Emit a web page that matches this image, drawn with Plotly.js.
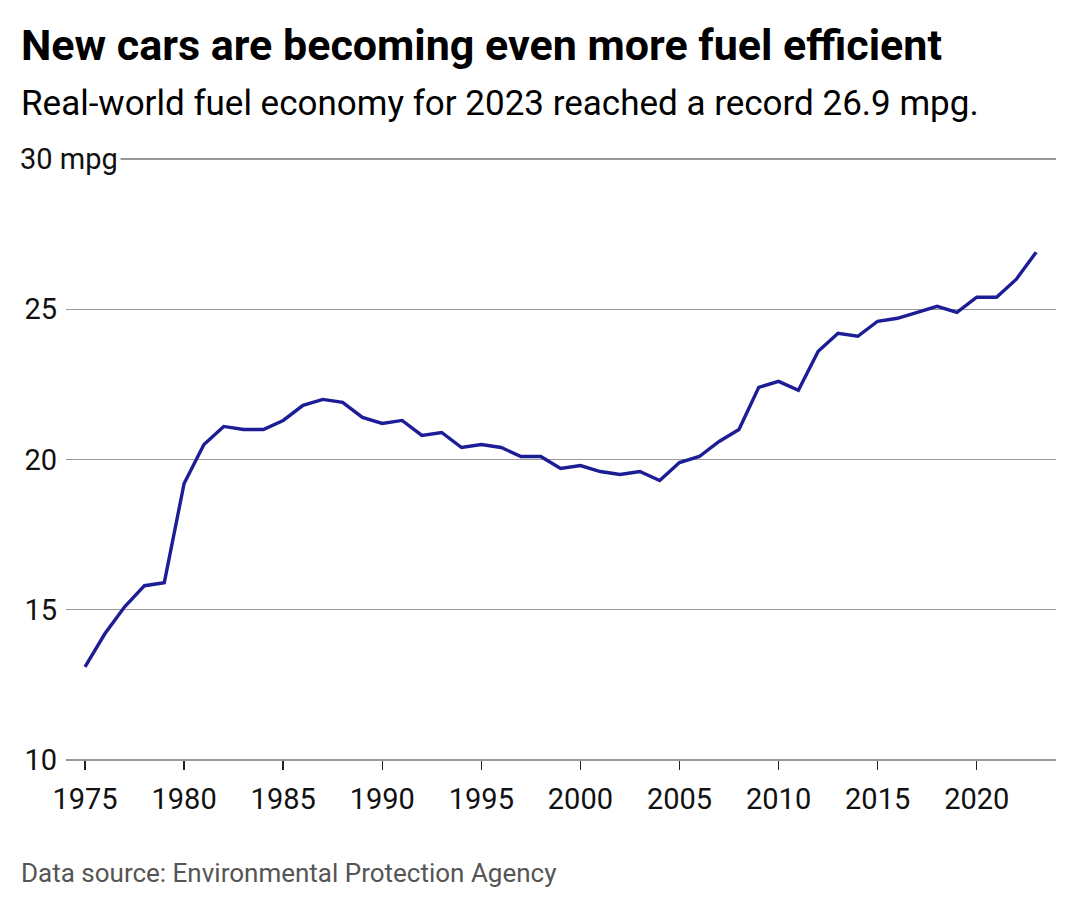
<!DOCTYPE html>
<html>
<head>
<meta charset="utf-8">
<script src="https://cdn.plot.ly/plotly-3.0.1.min.js"></script>
<style>html,body{margin:0;padding:0;background:#fff;}#chart{width:1080px;height:908px;}</style>
</head>
<body>
<div id="chart"></div>
<script>
const years = [1975,1976,1977,1978,1979,1980,1981,1982,1983,1984,1985,1986,1987,1988,1989,1990,1991,1992,1993,1994,1995,1996,1997,1998,1999,2000,2001,2002,2003,2004,2005,2006,2007,2008,2009,2010,2011,2012,2013,2014,2015,2016,2017,2018,2019,2020,2021,2022,2023];
const mpg = [13.1,14.2,15.1,15.8,15.9,19.2,20.5,21.1,21.0,21.0,21.3,21.8,22.0,21.9,21.4,21.2,21.3,20.8,20.9,20.4,20.5,20.4,20.1,20.1,19.7,19.8,19.6,19.5,19.6,19.3,19.9,20.1,20.6,21.0,22.4,22.6,22.3,23.6,24.2,24.1,24.6,24.7,24.9,25.1,24.9,25.4,25.4,26.0,26.9];
const yTickVals = [10,15,20,25,30];
const yTickText = ['10','15','20','25',''];
const xTickVals = [1975,1980,1985,1990,1995,2000,2005,2010,2015,2020];
const baselineValue = 10;
const titleText = 'New cars are becoming even more fuel efficient';
const subtitleText = 'Real-world fuel economy for 2023 reached a record 26.9 mpg.';
const sourceText = 'Data source: Environmental Protection Agency';
const topLabel = '30 mpg';

const W = 1080, H = 908;
const L = 66, R = 1056, T = 156, B = 766;
const px = x => (x - L) / (R - L);
const py = y => (B - y) / (B - T);
const font = 'Roboto, "Noto Sans", sans-serif';

const trace = {
  x: years, y: mpg, type: 'scatter', mode: 'lines',
  line: {color: '#1d1d95', width: 3.4},
  hoverinfo: 'skip'
};

const layout = {
  width: W, height: H,
  margin: {l: L, r: W - R, t: T, b: H - B, pad: 0},
  paper_bgcolor: '#fff', plot_bgcolor: '#fff',
  showlegend: false,
  font: {family: font, color: '#111'},
  xaxis: {
    range: [1974.04, 2024], tickvals: xTickVals, ticktext: xTickVals.map(String),
    anchor: 'free', position: py(760),
    showgrid: false, zeroline: false, showline: false,
    ticks: 'outside', ticklen: 9, tickwidth: 1.5, tickcolor: '#222',
    tickfont: {family: font, size: 29, color: '#111'}, ticklabelstandoff: 4
  },
  yaxis: {
    range: [9.8, 30.1], tickvals: yTickVals, ticktext: yTickText,
    showgrid: true, gridcolor: '#999', gridwidth: 1.5, zeroline: false, showline: false,
    ticks: '', tickfont: {family: font, size: 29, color: '#111'}, ticklabelstandoff: 8
  },
  shapes: [
    {type: 'line', xref: 'paper', yref: 'y', x0: 0, x1: 1, y0: baselineValue, y1: baselineValue, layer: 'above', line: {color: '#999', width: 1.8}}
  ],
  annotations: [
    {text: '<b>' + titleText + '</b>', xref: 'paper', yref: 'paper', x: px(19), y: py(45), xanchor: 'left', yanchor: 'middle', showarrow: false, font: {family: font, size: 43, color: '#000'}},
    {text: subtitleText, xref: 'paper', yref: 'paper', x: px(19), y: py(104), xanchor: 'left', yanchor: 'middle', showarrow: false, font: {family: font, size: 35, color: '#000'}},
    {text: topLabel, xref: 'paper', yref: 'paper', x: px(17), y: py(159), xanchor: 'left', yanchor: 'middle', showarrow: false, bgcolor: '#fff', borderpad: 2, font: {family: font, size: 29, color: '#111'}},
    {text: sourceText, xref: 'paper', yref: 'paper', x: px(19), y: py(873), xanchor: 'left', yanchor: 'middle', showarrow: false, font: {family: font, size: 26, color: '#555'}}
  ]
};

Plotly.newPlot('chart', [trace], layout, {displayModeBar: false, staticPlot: true});
</script>
</body>
</html>
